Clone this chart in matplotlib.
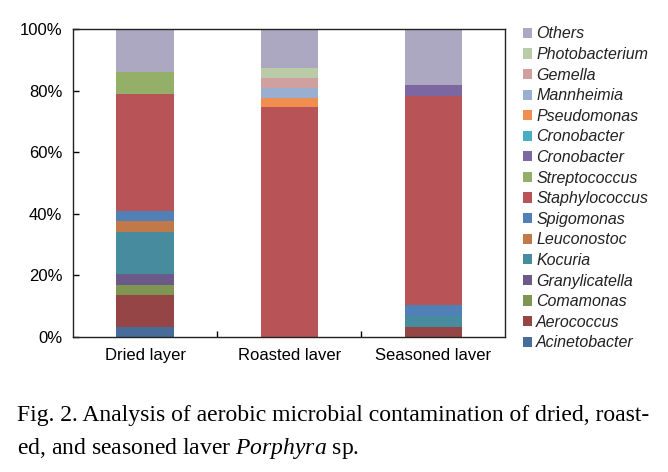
import numpy as np
import matplotlib
matplotlib.use("Agg")
import matplotlib.pyplot as plt
from matplotlib.patches import Patch
from matplotlib.ticker import PercentFormatter

samples = ["Dried layer", "Roasted laver", "Seasoned laver"]

# series listed bottom to top of the stack (percent of each bar)
taxa = ["Acinetobacter", "Aerococcus", "Comamonas", "Granylicatella", "Kocuria",
        "Leuconostoc", "Spigomonas", "Staphylococcus", "Streptococcus", "Cronobacter",
        "Cronobacter", "Pseudomonas", "Mannheimia", "Gemella", "Photobacterium", "Others"]

acinetobacter = [3.3, 0, 0]
aerococcus = [10.2, 0, 3.3]
comamonas = [3.3, 0, 0]
granylicatella = [3.6, 0, 0]
kocuria = [13.7, 0, 3.5]
leuconostoc = [3.5, 0, 0]
spigomonas = [3.4, 0, 3.5]
staphylococcus = [38.0, 74.7, 68.1]
streptococcus = [7.1, 0, 0]
cronobacter_a = [0, 0, 3.5]
cronobacter_b = [0, 0, 0]
pseudomonas = [0, 3.0, 0]
mannheimia = [0, 3.3, 0]
gemella = [0, 3.2, 0]
photobacterium = [0, 3.2, 0]
others = [13.9, 12.6, 18.1]

values = [acinetobacter, aerococcus, comamonas, granylicatella, kocuria, leuconostoc,
          spigomonas, staphylococcus, streptococcus, cronobacter_a, cronobacter_b,
          pseudomonas, mannheimia, gemella, photobacterium, others]

colors = ["#476C99", "#954546", "#7E9652", "#6B5A89", "#478B9E", "#C1794A",
          "#5180B6", "#B85457", "#94AF68", "#7C67A0", "#4BACC6", "#F08E50",
          "#9AAECF", "#D09FA0", "#BACBA7", "#ADA8C2"]

plt.rcParams["font.family"] = ["Liberation Sans", "DejaVu Sans"]
plt.rcParams["mathtext.fontset"] = "custom"
plt.rcParams["mathtext.it"] = "Liberation Serif:italic"
plt.rcParams["mathtext.rm"] = "Liberation Serif"

fig = plt.figure(figsize=(6.68, 4.72), dpi=100)
ax = fig.add_axes([0.1097, 0.2867, 0.647, 0.6512])

x = np.arange(len(samples))
bottom = np.zeros(len(samples))
for vals, col in zip(values, colors):
    vals = np.array(vals, dtype=float)
    ax.bar(x, vals, width=0.4, bottom=bottom, color=col, linewidth=0)
    bottom += vals

ax.set_xlim(-0.5, 2.5)
ax.set_ylim(0, 100)
ax.set_yticks(np.arange(0, 101, 20))
ax.yaxis.set_major_formatter(PercentFormatter(decimals=0))
ax.set_xticks(x)
ax.set_xticklabels(samples, fontsize=12)
ax.tick_params(axis="x", length=0, pad=8)
ax.set_xticks([0.5, 1.5], minor=True)
ax.tick_params(axis="x", which="minor", direction="in", length=4, width=1)
ax.tick_params(axis="y", direction="in", length=4, width=1, labelsize=12, pad=8)
for s in ax.spines.values():
    s.set_linewidth(1.0)
    s.set_color("#222222")

handles = [Patch(facecolor=c, edgecolor="none") for c in colors]
leg = ax.legend(handles[::-1], taxa[::-1], loc="upper left",
                bbox_to_anchor=(1.025, 1.03), frameon=False,
                prop={"style": "italic", "size": 11.5},
                handlelength=0.6, handleheight=0.6, handletextpad=0.25,
                labelspacing=0.35, borderaxespad=0)
for t in leg.get_texts():
    t.set_color("#222222")

fig.text(0.026, 0.119, "Fig. 2. Analysis of aerobic microbial contamination of dried, roast-",
         family="Liberation Serif", fontsize=17, va="center", ha="left")
fig.text(0.026, 0.049, "ed, and seasoned laver $\\mathit{Porphyra}$ sp.",
         family="Liberation Serif", fontsize=17, va="center", ha="left")

fig.savefig("out.png", dpi=100)
